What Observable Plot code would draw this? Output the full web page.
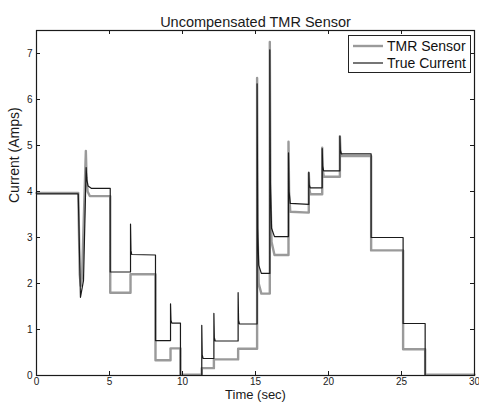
<!DOCTYPE html>
<html>
<head>
<meta charset="utf-8">
<script src="https://cdn.jsdelivr.net/npm/d3@7"></script>
<script src="https://cdn.jsdelivr.net/npm/@observablehq/plot@0.6"></script>
<style>
  html, body { margin: 0; padding: 0; background: #fff; }
  #wrap { position: relative; width: 479px; height: 404px; font-family: "Liberation Sans", Arial, sans-serif; }
  #legend { position: absolute; left: 348px; top: 35px; width: 121px; height: 36px; border: 1px solid #222; background: #fff; font-size: 14px; color: #111; }
  #legend .row { position: absolute; left: 4px; height: 17px; display: flex; align-items: center; white-space: nowrap; }
  #legend svg { margin-right: 4px; }
</style>
</head>
<body>
<div id="wrap"></div>
<script>
// ---- data ----
const trueTime = [0, 2.86, 3.01, 3.22, 3.4, 3.45, 3.53, 3.75,
  5.05, 5.05, 6.44, 6.44, 6.47, 6.52, 8.15, 8.15, 9.18, 9.18, 9.21, 9.27, 9.86, 9.86,
  11.32, 11.32, 11.35, 11.41, 12.15, 12.15, 12.18, 12.24, 13.81, 13.81, 13.84, 13.9,
  15.11, 15.11, 15.15, 15.22, 15.4, 15.98, 15.98, 16.02, 16.1, 16.3,
  17.26, 17.26, 17.3, 17.38, 18.65, 18.65, 18.68, 18.75, 19.57, 19.57, 19.6, 19.67,
  20.78, 20.78, 20.81, 20.88, 22.92, 22.92, 25.11, 25.11, 26.62, 26.62, 30];
const trueAmps = [3.95, 3.95, 1.70, 2.07, 4.52, 4.25, 4.12, 4.07,
  4.07, 2.25, 2.25, 3.29, 2.72, 2.63, 2.62, 0.76, 0.76, 1.56, 1.2, 1.14, 1.14, 0.0,
  0.0, 1.09, 0.45, 0.37, 0.37, 1.35, 0.82, 0.75, 0.75, 1.8, 1.2, 1.12,
  1.12, 6.34, 3.2, 2.4, 2.22, 2.22, 7.08, 4.2, 3.2, 3.02,
  3.02, 4.84, 4.0, 3.74, 3.72, 4.42, 4.15, 4.08, 4.08, 4.93, 4.55, 4.45,
  4.45, 5.2, 4.9, 4.82, 4.82, 3.0, 3.0, 1.13, 1.13, 0.0, 0.0];

const sensorTime = [0, 2.86, 2.96, 3.03, 3.12, 3.38, 3.43, 3.5, 3.65,
  5.05, 5.05, 6.44, 6.44, 8.15, 8.15, 9.18, 9.18, 9.86, 9.86,
  11.32, 11.32, 12.15, 12.15, 13.81, 13.81,
  15.11, 15.11, 15.15, 15.22, 15.4, 15.98, 15.98, 16.02, 16.1, 16.3,
  17.26, 17.26, 17.3, 17.38, 18.65, 18.65, 18.69, 18.76, 19.57, 19.57, 19.61, 19.68,
  20.78, 20.78, 20.82, 20.9, 22.92, 22.92, 25.11, 25.11, 26.62, 26.62, 30];
const sensorAmps = [3.97, 3.97, 2.2, 1.95, 2.15, 4.88, 4.3, 4.0, 3.9,
  3.9, 1.8, 1.8, 2.2, 2.2, 0.33, 0.33, 0.59, 0.59, 0.02,
  0.02, 0.16, 0.16, 0.35, 0.35, 0.58,
  0.58, 6.47, 3.0, 2.0, 1.78, 1.78, 7.25, 4.0, 2.9, 2.62,
  2.62, 5.08, 4.0, 3.56, 3.54, 4.4, 4.05, 3.94, 3.94, 4.95, 4.45, 4.32,
  4.32, 5.2, 4.85, 4.77, 4.77, 2.72, 2.72, 0.57, 0.57, 0.02, 0.02];

const xTicks = [0, 5, 10, 15, 20, 25, 30];
const yTicks = [0, 1, 2, 3, 4, 5, 6, 7];
const seriesNames = ["TMR Sensor", "True Current"];
const titleText = "Uncompensated TMR Sensor";
const xLabel = "Time (sec)";
const yLabel = "Current (Amps)";

// ---- build ----
const sensorRows = sensorTime.map((t, i) => ({t, a: sensorAmps[i]}));
const trueRows = trueTime.map((t, i) => ({t, a: trueAmps[i]}));

const W = 479, H = 404;
const mL = 36, mR = 5, mT = 30, mB = 29;
const pw = W - mL - mR, ph = H - mT - mB;
const tick = 4;
const ink = "#1a1a1a";
const grayC = "#9a9a9a";

const chart = Plot.plot({
  width: W, height: H,
  marginLeft: mL, marginRight: mR, marginTop: mT, marginBottom: mB,
  style: {fontFamily: '"Liberation Sans", Arial, sans-serif', fontSize: "10px", color: ink, background: "#fff"},
  x: {domain: [0, 30]},
  y: {domain: [0, 7.5]},
  marks: [
    Plot.line(sensorRows, {x: "t", y: "a", stroke: grayC, strokeWidth: 2.4, strokeLinejoin: "round"}),
    Plot.line(trueRows, {x: "t", y: "a", stroke: ink, strokeWidth: 1.2}),
    // inward ticks on four sides
    Plot.tickX(xTicks, {x: d => d, stroke: ink, insetTop: ph - tick}),
    Plot.tickX(xTicks, {x: d => d, stroke: ink, insetBottom: ph - tick}),
    Plot.tickY(yTicks, {y: d => d, stroke: ink, insetRight: pw - tick}),
    Plot.tickY(yTicks, {y: d => d, stroke: ink, insetLeft: pw - tick}),
    Plot.frame({stroke: ink, strokeWidth: 1.2}),
    Plot.axisX({ticks: xTicks, tickSize: 0, tickPadding: 2, label: null, fontSize: 10}),
    Plot.axisY({ticks: yTicks, tickSize: 0, tickPadding: 4, label: null, fontSize: 10}),
    Plot.text([titleText], {text: d => d, frameAnchor: "top", dy: -14, fontSize: 14.5, fill: ink}),
    Plot.text([xLabel], {text: d => d, frameAnchor: "bottom", dy: 23, fontSize: 13, fill: ink}),
    Plot.text([yLabel], {text: d => d, frameAnchor: "left", dx: -22, rotate: -90, fontSize: 14, fill: ink})
  ]
});

const wrap = document.getElementById("wrap");
wrap.appendChild(chart);

// legend
const legend = document.createElement("div");
legend.id = "legend";
const colors = [grayC, ink];
const widths = [2.4, 1.2];
seriesNames.forEach((name, i) => {
  const row = document.createElement("div");
  row.className = "row";
  row.style.top = (1 + i * 17) + "px";
  row.innerHTML = `<svg width="30" height="6"><line x1="0" x2="30" y1="3" y2="3" stroke="${colors[i]}" stroke-width="${widths[i]}"/></svg><span>${name}</span>`;
  legend.appendChild(row);
});
wrap.appendChild(legend);
</script>
</body>
</html>
